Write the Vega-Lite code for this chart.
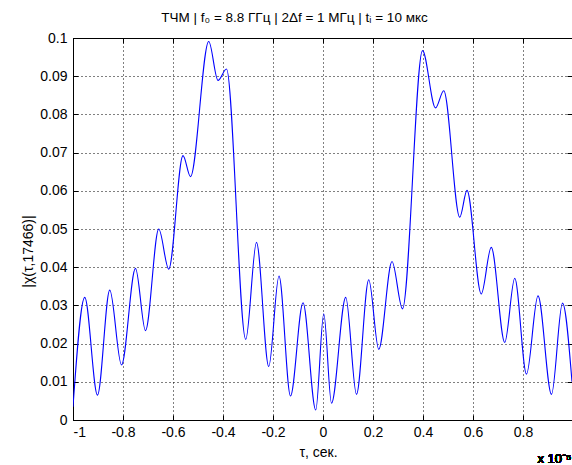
{
  "$schema": "https://vega.github.io/schema/vega-lite/v6.json",
  "width": 499,
  "height": 382,
  "autosize": {"type": "none"},
  "padding": {"left": 73, "top": 38, "right": 0, "bottom": 45},
  "background": "white",
  "title": {
    "text": "ТЧМ | f₀ = 8.8 ГГц | 2Δf = 1 МГц | tᵢ = 10 мкс",
    "anchor": "middle",
    "frame": "group",
    "offset": 7,
    "dx": -28,
    "font": "Liberation Sans",
    "fontSize": 13.5,
    "fontWeight": "normal",
    "color": "black"
  },
  "config": {
    "view": {"stroke": "black", "strokeWidth": 1},
    "axis": {
      "labelFont": "Liberation Sans",
      "labelFontSize": 14,
      "labelColor": "black",
      "titleFont": "Liberation Sans",
      "titleFontSize": 14,
      "titleFontWeight": "normal",
      "titleColor": "black",
      "domainColor": "black",
      "tickColor": "black",
      "gridColor": "black",
      "gridOpacity": 1,
      "gridDash": [1, 3],
      "gridWidth": 1
    }
  },
  "data": {
    "values": [
      {"tau": -1.0, "chi": 0.0035},
      {"tau": -0.953, "chi": 0.0321},
      {"tau": -0.902, "chi": 0.0065},
      {"tau": -0.853, "chi": 0.034},
      {"tau": -0.806, "chi": 0.0144},
      {"tau": -0.75, "chi": 0.0397},
      {"tau": -0.71, "chi": 0.0234},
      {"tau": -0.657, "chi": 0.05},
      {"tau": -0.617, "chi": 0.0395},
      {"tau": -0.56, "chi": 0.0692},
      {"tau": -0.53, "chi": 0.0637},
      {"tau": -0.457, "chi": 0.0991},
      {"tau": -0.42, "chi": 0.0889},
      {"tau": -0.386, "chi": 0.0919},
      {"tau": -0.309, "chi": 0.0211},
      {"tau": -0.266, "chi": 0.0465},
      {"tau": -0.217, "chi": 0.014},
      {"tau": -0.176, "chi": 0.0377},
      {"tau": -0.13, "chi": 0.0063},
      {"tau": -0.08, "chi": 0.0307},
      {"tau": -0.029, "chi": 0.0026},
      {"tau": 0.003, "chi": 0.0278},
      {"tau": 0.034, "chi": 0.0044},
      {"tau": 0.091, "chi": 0.0321},
      {"tau": 0.134, "chi": 0.0067},
      {"tau": 0.183, "chi": 0.0367},
      {"tau": 0.223, "chi": 0.0185},
      {"tau": 0.276, "chi": 0.0415},
      {"tau": 0.318, "chi": 0.0291},
      {"tau": 0.398, "chi": 0.0967},
      {"tau": 0.45, "chi": 0.0817},
      {"tau": 0.483, "chi": 0.0862},
      {"tau": 0.547, "chi": 0.0531},
      {"tau": 0.576, "chi": 0.0601},
      {"tau": 0.633, "chi": 0.033},
      {"tau": 0.673, "chi": 0.0452},
      {"tau": 0.727, "chi": 0.0203},
      {"tau": 0.767, "chi": 0.0371},
      {"tau": 0.814, "chi": 0.012},
      {"tau": 0.86, "chi": 0.0325},
      {"tau": 0.914, "chi": 0.0067},
      {"tau": 0.958, "chi": 0.0306},
      {"tau": 0.996, "chi": 0.01}
    ]
  },
  "resolve": {"axis": {"x": "independent", "y": "independent"}},
  "layer": [
    {
      "mark": {"type": "line", "color": "#0000ff", "strokeWidth": 1.1, "interpolate": "monotone", "clip": true},
      "encoding": {
        "x": {
          "field": "tau", "type": "quantitative",
          "scale": {"domain": [-1, 0.996], "nice": false, "zero": false},
          "axis": {
            "orient": "bottom",
            "values": [-1, -0.8, -0.6, -0.4, -0.2, 0, 0.2, 0.4, 0.6, 0.8],
            "format": "~g",
            "labelExpr": "replace(datum.label, '−', '-')",
            "grid": true,
            "tickSize": -5,
            "labelPadding": 10,
            "title": "τ, сек.",
            "titleX": 245,
            "titleY": 36,
            "titleBaseline": "alphabetic",
            "titleAnchor": "middle"
          }
        },
        "y": {
          "field": "chi", "type": "quantitative",
          "scale": {"domain": [0, 0.1], "nice": false},
          "axis": {
            "orient": "left",
            "values": [0, 0.01, 0.02, 0.03, 0.04, 0.05, 0.06, 0.07, 0.08, 0.09, 0.1],
            "format": "~g",
            "grid": true,
            "tickSize": -5,
            "labelPadding": 11,
            "title": "|χ(τ,17466)|",
            "titleX": -45,
            "titleY": 213,
            "titleAngle": -90,
            "titleBaseline": "middle",
            "titleAnchor": "middle"
          }
        }
      }
    },
    {
      "mark": {"type": "line", "opacity": 0},
      "encoding": {
        "x": {
          "field": "tau", "type": "quantitative",
          "axis": {
            "orient": "top",
            "values": [-1, -0.8, -0.6, -0.4, -0.2, 0, 0.2, 0.4, 0.6, 0.8],
            "labels": false, "grid": false, "tickSize": -5, "title": null
          }
        },
        "y": {
          "field": "chi", "type": "quantitative",
          "axis": {
            "orient": "right",
            "values": [0, 0.01, 0.02, 0.03, 0.04, 0.05, 0.06, 0.07, 0.08, 0.09, 0.1],
            "labels": false, "grid": false, "tickSize": -5, "title": null
          }
        }
      }
    },
    {
      "mark": {"type": "text", "text": "x 10⁻⁵", "align": "left", "baseline": "alphabetic", "font": "Liberation Sans", "fontSize": 13, "color": "black", "clip": false},
      "encoding": {
        "x": {"datum": 0.8576, "type": "quantitative", "axis": null},
        "y": {"datum": -0.0113, "type": "quantitative", "axis": null}
      }
    }
  ]
}
